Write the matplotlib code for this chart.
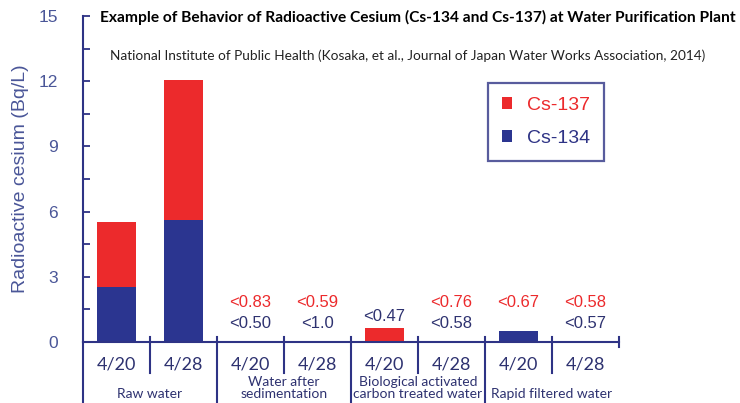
import numpy as np
import matplotlib.pyplot as plt
from matplotlib.patches import Patch
from matplotlib.ticker import MultipleLocator
from matplotlib.transforms import blended_transform_factory

# values (Bq/L)
dates = ['4/20', '4/28', '4/20', '4/28', '4/20', '4/28', '4/20', '4/28']
groups = ['Raw water', 'Water after\nsedimentation',
          'Biological activated\ncarbon treated water', 'Rapid filtered water']
cs134 = [2.55, 5.6, 0, 0, 0, 0, 0.49, 0]
cs137 = [2.99, 6.45, 0, 0, 0.64, 0, 0, 0]
# detection limits where not detected
nd137 = ['', '', '<0.83', '<0.59', '', '<0.76', '<0.67', '<0.58']
nd134 = ['', '', '<0.50', '<1.0', '<0.47', '<0.58', '', '<0.57']

RED = '#EC2A2C'
BLUE = '#2B3590'
NAVY = '#2E3385'
SLATE = '#4A5698'
DARK = '#2E3270'

W, H = 740, 403
fig = plt.figure(figsize=(W / 100, H / 100), dpi=100)
ax = fig.add_axes([83 / W, 61 / H, 536 / W, 326 / H])

x = np.arange(len(dates)) + 0.5
ax.bar(x, cs134, width=0.58, color=BLUE, linewidth=0)
ax.bar(x, cs137, width=0.58, bottom=cs134, color=RED, linewidth=0)

ax.set_xlim(0, 8)
ax.set_ylim(0, 15)
ax.set_xticks([])
ax.set_yticks(range(0, 16, 3))
ax.yaxis.set_minor_locator(MultipleLocator(1.5))
ax.tick_params(axis='y', which='both', direction='in', length=5, width=1.3,
               color=NAVY, labelsize=12.5, labelcolor=SLATE, pad=18)
for lab in ax.get_yticklabels():
    lab.set_fontfamily('Liberation Sans')

for s in ['top', 'right']:
    ax.spines[s].set_visible(False)
for s in ['left', 'bottom']:
    ax.spines[s].set_color(NAVY)
    ax.spines[s].set_linewidth(1.5)

ax.set_ylabel('Radioactive cesium (Bq/L)', fontsize=14, color=SLATE,
              family='Liberation Sans', labelpad=7)

# px -> axes fraction for vertical offsets
py = 1 / 326.0
trans = blended_transform_factory(ax.transData, ax.transAxes)

# left axis continues down through the category area
ax.plot([0, 0], [0, -61 * py], transform=ax.transAxes, color=NAVY, lw=1.5, clip_on=False)

# separators between categories
for i in range(1, 9):
    if i == 8:
        lo = -5 * py
    elif i % 2 == 1:
        lo = -31 * py
    else:
        lo = -61 * py
    ax.plot([i, i], [5 * py, lo], transform=trans, color=NAVY, lw=1.5, clip_on=False)

# date labels and group labels
for xi, d in zip(x, dates):
    ax.text(xi, -22 * py, d, transform=trans, ha='center', va='center',
            fontsize=13, color=DARK, family='Lato')
for j, g in enumerate(groups):
    n = g.count('\n')
    ax.text(2 * j + 1, (-52 + 6.5 * n) * py, g, transform=trans, ha='center', va='center',
            fontsize=10, color=DARK, family='Lato', linespacing=1.0)

# not-detected labels
for xi, a, b, t in zip(x, nd137, nd134, np.array(cs134) + np.array(cs137)):
    if a:
        ax.text(xi, 1.81, a, ha='center', va='center', fontsize=12, color=RED,
                family='Liberation Sans')
    if b:
        ax.text(xi, max(0.86, t + 0.52), b, ha='center', va='center', fontsize=12,
                color=DARK, family='Liberation Sans')

# titles
fig.text(418 / W, 1 - 17 / H,
         'Example of Behavior of Radioactive Cesium (Cs-134 and Cs-137) at Water Purification Plant',
         ha='center', va='center', fontsize=11.2, fontweight='bold', family='Lato', color='black')
fig.text(408 / W, 1 - 56 / H,
         'National Institute of Public Health (Kosaka, et al., Journal of Japan Water Works Association, 2014)',
         ha='center', va='center', fontsize=9.8, family='Lato', color='#222222')

handles = [Patch(facecolor=RED), Patch(facecolor=BLUE)]
leg = fig.legend(handles, ['Cs-137', 'Cs-134'], loc='upper left',
                 bbox_to_anchor=(488 / W, 1 - 83 / H), borderaxespad=0,
                 prop={'family': 'Liberation Sans', 'size': 14},
                 handlelength=0.55, handleheight=0.55, handletextpad=0.75,
                 labelspacing=0.85, borderpad=0.7, fancybox=False)
leg.get_frame().set_edgecolor(NAVY)
leg.get_frame().set_linewidth(1.6)
for t, c in zip(leg.get_texts(), [RED, NAVY]):
    t.set_color(c)

fig.savefig('out.png', dpi=100)
